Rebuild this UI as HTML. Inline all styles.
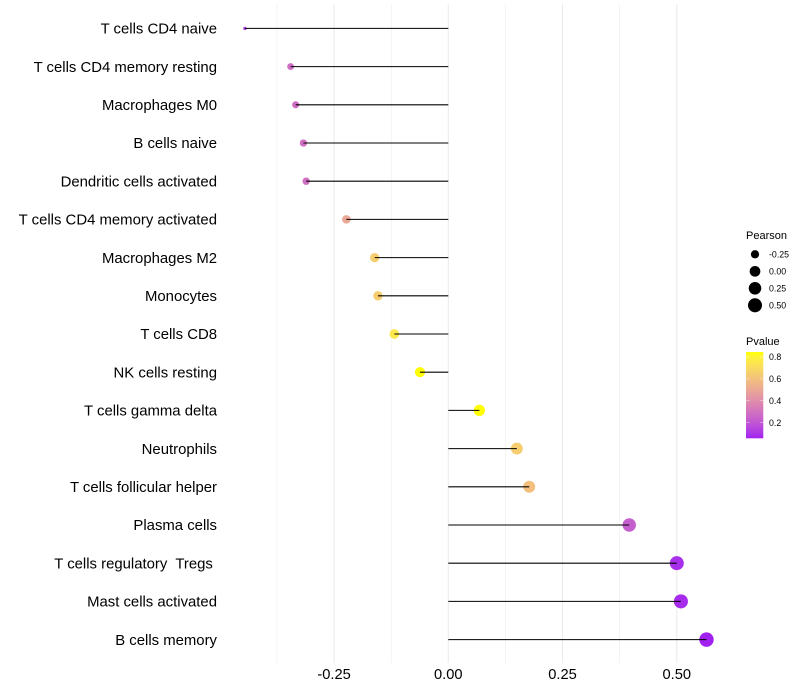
<!DOCTYPE html>
<html lang="en">
<head>
<meta charset="utf-8">
<title>Immune cell correlation lollipop chart</title>
<style>
  html, body { margin: 0; padding: 0; background: #fff; }
  svg { display: block; font-family: "Liberation Sans", Arial, sans-serif; }
  text { white-space: pre; }
</style>
</head>
<body>
<svg id="chart" width="800" height="700" viewBox="0 0 800 700" xmlns="http://www.w3.org/2000/svg" xml:space="preserve">
  <rect x="0" y="0" width="800" height="700" fill="#ffffff"/>
  <defs>
    <linearGradient id="pvalue-gradient" x1="0" y1="1" x2="0" y2="0"></linearGradient>
  </defs>
  <g id="grid"></g>
  <g id="points"></g>
  <g id="segments"></g>
  <g id="y-axis"></g>
  <g id="x-axis"></g>
  <g id="size-legend"></g>
  <g id="color-legend"></g>
</svg>
<script>
const categories = [
  "T cells CD4 naive",
  "T cells CD4 memory resting",
  "Macrophages M0",
  "B cells naive",
  "Dendritic cells activated",
  "T cells CD4 memory activated",
  "Macrophages M2",
  "Monocytes",
  "T cells CD8",
  "NK cells resting",
  "T cells gamma delta",
  "Neutrophils",
  "T cells follicular helper",
  "Plasma cells",
  "T cells regulatory  Tregs ",
  "Mast cells activated",
  "B cells memory"
];
const pearson = [-0.445, -0.345, -0.334, -0.317, -0.311, -0.223, -0.161, -0.154, -0.118, -0.062, 0.068, 0.15, 0.177, 0.396, 0.5, 0.509, 0.565];
const pvalue = [0.13, 0.28, 0.28, 0.29, 0.29, 0.5, 0.65, 0.65, 0.75, 0.85, 0.85, 0.65, 0.6, 0.23, 0.09, 0.08, 0.05];
const xTicks = [-0.25, 0, 0.25, 0.5];
const xMinorTicks = [-0.375, -0.125, 0.125, 0.375];
const sizeLegendValues = [-0.25, 0, 0.25, 0.5];
const colorLegendTicks = [0.2, 0.4, 0.6, 0.8];
const pvalueDomain = [0.057, 0.846];

const SVG_NS = "http://www.w3.org/2000/svg";

function xScale(v) { return 448.3 + v * 457; }
function yScale(i) { return 28.4 + i * 38.2; }
function sizeScale(v) {
  const lo = Math.min.apply(null, pearson);
  const hi = Math.max.apply(null, pearson);
  const t = Math.max(0, Math.min(1, (v - lo) / (hi - lo)));
  return 2.2 * (1 + 5 * Math.sqrt(t)) + 1.2;
}

function srgbToLinear(c) { c /= 255; return c <= 0.04045 ? c / 12.92 : Math.pow((c + 0.055) / 1.055, 2.4); }
function linearToSrgb(c) { const s = c <= 0.0031308 ? 12.92 * c : 1.055 * Math.pow(c, 1 / 2.4) - 0.055; return Math.round(Math.max(0, Math.min(1, s)) * 255); }
function labF(t) { return t > 0.008856 ? Math.cbrt(t) : 7.787 * t + 16 / 116; }
function labFInv(t) { return t > 0.206893 ? t * t * t : (t - 16 / 116) / 7.787; }
function rgbToLab(rgb) {
  const r = srgbToLinear(rgb[0]), g = srgbToLinear(rgb[1]), b = srgbToLinear(rgb[2]);
  const X = (0.4124 * r + 0.3576 * g + 0.1805 * b) / 0.95047;
  const Y = 0.2126 * r + 0.7152 * g + 0.0722 * b;
  const Z = (0.0193 * r + 0.1192 * g + 0.9505 * b) / 1.08883;
  return [116 * labF(Y) - 16, 500 * (labF(X) - labF(Y)), 200 * (labF(Y) - labF(Z))];
}
function labToHex(lab) {
  const fy = (lab[0] + 16) / 116, fx = fy + lab[1] / 500, fz = fy - lab[2] / 200;
  const X = labFInv(fx) * 0.95047, Y = labFInv(fy), Z = labFInv(fz) * 1.08883;
  const r = 3.2406 * X - 1.5372 * Y - 0.4986 * Z;
  const g = -0.9689 * X + 1.8758 * Y + 0.0415 * Z;
  const b = 0.0557 * X - 0.2040 * Y + 1.0570 * Z;
  return "rgb(" + linearToSrgb(r) + "," + linearToSrgb(g) + "," + linearToSrgb(b) + ")";
}
const labLow = rgbToLab([160, 32, 240]);
const labHigh = rgbToLab([255, 255, 0]);
function colorAt(t) {
  t = Math.max(0, Math.min(1, t));
  return labToHex([0, 1, 2].map(function (k) { return labLow[k] + (labHigh[k] - labLow[k]) * t; }));
}
function colorScale(p) { return colorAt((p - pvalueDomain[0]) / (pvalueDomain[1] - pvalueDomain[0])); }

function make(tag, attrs, parent, content) {
  const el = document.createElementNS(SVG_NS, tag);
  Object.keys(attrs).forEach(function (k) { el.setAttribute(k, attrs[k]); });
  if (content !== undefined) el.textContent = content;
  parent.appendChild(el);
  return el;
}

const gridG = document.getElementById("grid");
const pointsG = document.getElementById("points");
const segmentsG = document.getElementById("segments");
const yAxisG = document.getElementById("y-axis");
const xAxisG = document.getElementById("x-axis");
const sizeG = document.getElementById("size-legend");
const colorG = document.getElementById("color-legend");

const gridTop = 4;
const gridBottom = 663;

xMinorTicks.forEach(function (v) {
  const line = make("line", { x1: xScale(v), x2: xScale(v), y1: gridTop, y2: gridBottom, stroke: "#ebebeb", "stroke-width": 0.55 }, gridG);
  
  
});
xTicks.forEach(function (v) {
  const line = make("line", { x1: xScale(v), x2: xScale(v), y1: gridTop, y2: gridBottom, stroke: "#ebebeb", "stroke-width": 1.07 }, gridG);
  
  
  const label = make("text", { x: xScale(v), y: 679, "text-anchor": "middle", "font-size": 14.67, fill: "#000000" }, xAxisG, v.toFixed(2));
  
  
});

categories.forEach(function (name, i) {
  const label = make("text", { x: 217, y: yScale(i) + 5.2, "text-anchor": "end", "font-size": 14.9, fill: "#000000" }, yAxisG, name);
  
  

  const point = make("circle", { cx: xScale(pearson[i]), cy: yScale(i), r: sizeScale(pearson[i]) / 2, fill: colorScale(pvalue[i]) }, pointsG);
  
  

  const seg = make("line", { x1: xScale(0), x2: xScale(pearson[i]), y1: yScale(i), y2: yScale(i), stroke: "#000000", "stroke-width": 1.07 }, segmentsG);
  
  
});

const pearsonTitle = make("text", { x: 746, y: 239, "font-size": 11, fill: "#000000" }, sizeG, "Pearson");


sizeLegendValues.forEach(function (v, i) {
  const cy = 254.3 + i * 17;
  const dot = make("circle", { cx: 755, cy: cy, r: sizeScale(v) / 2, fill: "#000000" }, sizeG);
  
  
  const label = make("text", { x: 769, y: cy + 3.1, "font-size": 8.8, fill: "#000000" }, sizeG, v.toFixed(2));
  
  
});

const pvalueTitle = make("text", { x: 746, y: 345, "font-size": 11, fill: "#000000" }, colorG, "Pvalue");



const gradient = document.getElementById("pvalue-gradient");
for (let s = 0; s <= 20; s++) {
  make("stop", { offset: (s / 20), "stop-color": colorAt(s / 20) }, gradient);
}
const barTop = 352;
const barBottom = 438.3;
function barScale(p) { return barBottom - (p - pvalueDomain[0]) / (pvalueDomain[1] - pvalueDomain[0]) * (barBottom - barTop); }
const bar = make("rect", { x: 746, y: barTop, width: 17.3, height: barBottom - barTop, fill: "url(#pvalue-gradient)" }, colorG);


colorLegendTicks.forEach(function (p) {
  const y = barScale(p);
  const t1 = make("line", { x1: 746, x2: 749.5, y1: y, y2: y, stroke: "#ffffff", "stroke-opacity": 0.7, "stroke-width": 0.55 }, colorG);
  
  
  const t2 = make("line", { x1: 759.8, x2: 763.3, y1: y, y2: y, stroke: "#ffffff", "stroke-opacity": 0.7, "stroke-width": 0.55 }, colorG);
  
  
  const label = make("text", { x: 769, y: y + 3.1, "font-size": 8.8, fill: "#000000" }, colorG, p.toFixed(1));
  
  
});
</script>
</body>
</html>
